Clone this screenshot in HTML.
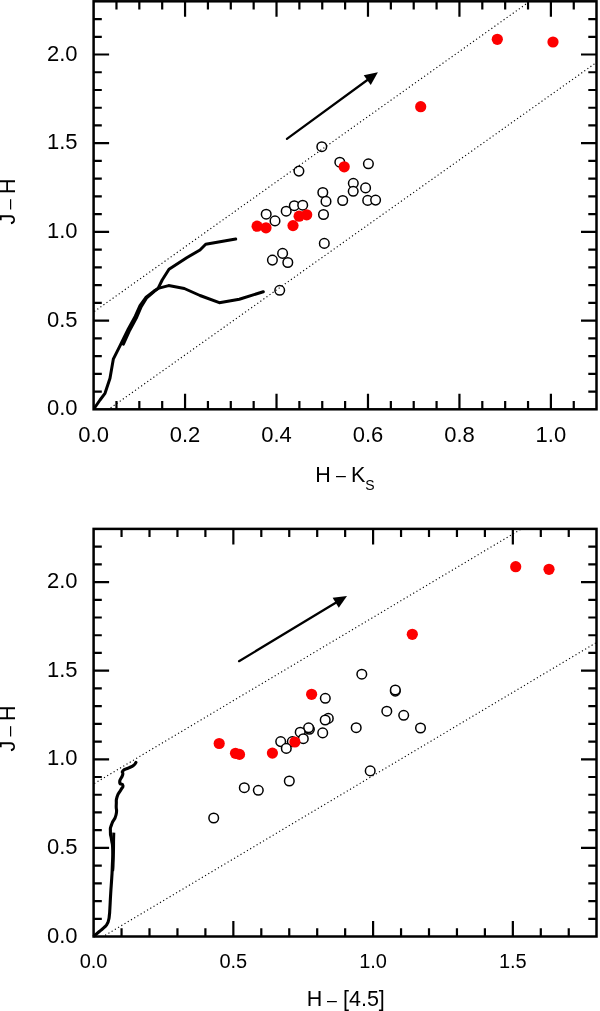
<!DOCTYPE html>
<html><head><meta charset="utf-8"><title>Colour-colour diagrams</title>
<style>html,body{margin:0;padding:0;background:#fff}svg{display:block;will-change:transform}text{font-family:"Liberation Sans",sans-serif;fill:#000}</style>
</head><body>
<svg width="600" height="1011" viewBox="0 0 600 1011">
<rect x="0" y="0" width="600" height="1011" fill="#fff"/>
<g>
<path d="M116.47 409.3 v-8.2 M116.47 1.3 v8.2 M139.33 409.3 v-8.2 M139.33 1.3 v8.2 M162.19 409.3 v-8.2 M162.19 1.3 v8.2 M185.06 409.3 v-15.5 M185.06 1.3 v15.5 M207.93 409.3 v-8.2 M207.93 1.3 v8.2 M230.79 409.3 v-8.2 M230.79 1.3 v8.2 M253.66 409.3 v-8.2 M253.66 1.3 v8.2 M276.52 409.3 v-15.5 M276.52 1.3 v15.5 M299.38 409.3 v-8.2 M299.38 1.3 v8.2 M322.25 409.3 v-8.2 M322.25 1.3 v8.2 M345.12 409.3 v-8.2 M345.12 1.3 v8.2 M367.98 409.3 v-15.5 M367.98 1.3 v15.5 M390.85 409.3 v-8.2 M390.85 1.3 v8.2 M413.71 409.3 v-8.2 M413.71 1.3 v8.2 M436.58 409.3 v-8.2 M436.58 1.3 v8.2 M459.44 409.3 v-15.5 M459.44 1.3 v15.5 M482.31 409.3 v-8.2 M482.31 1.3 v8.2 M505.17 409.3 v-8.2 M505.17 1.3 v8.2 M528.04 409.3 v-8.2 M528.04 1.3 v8.2 M550.9 409.3 v-15.5 M550.9 1.3 v15.5 M573.76 409.3 v-8.2 M573.76 1.3 v8.2 M93.6 391.56 h8.2 M596.5 391.56 h-8.2 M93.6 373.82 h8.2 M596.5 373.82 h-8.2 M93.6 356.08 h8.2 M596.5 356.08 h-8.2 M93.6 338.34 h8.2 M596.5 338.34 h-8.2 M93.6 320.6 h15.5 M596.5 320.6 h-15.5 M93.6 302.87 h8.2 M596.5 302.87 h-8.2 M93.6 285.13 h8.2 M596.5 285.13 h-8.2 M93.6 267.39 h8.2 M596.5 267.39 h-8.2 M93.6 249.65 h8.2 M596.5 249.65 h-8.2 M93.6 231.91 h15.5 M596.5 231.91 h-15.5 M93.6 214.17 h8.2 M596.5 214.17 h-8.2 M93.6 196.43 h8.2 M596.5 196.43 h-8.2 M93.6 178.69 h8.2 M596.5 178.69 h-8.2 M93.6 160.95 h8.2 M596.5 160.95 h-8.2 M93.6 143.21 h15.5 M596.5 143.21 h-15.5 M93.6 125.47 h8.2 M596.5 125.47 h-8.2 M93.6 107.73 h8.2 M596.5 107.73 h-8.2 M93.6 90 h8.2 M596.5 90 h-8.2 M93.6 72.26 h8.2 M596.5 72.26 h-8.2 M93.6 54.52 h15.5 M596.5 54.52 h-15.5 M93.6 36.78 h8.2 M596.5 36.78 h-8.2 M93.6 19.04 h8.2 M596.5 19.04 h-8.2" fill="none" stroke="#000" stroke-width="2.2"/>
<rect x="93.6" y="1.3" width="502.9" height="408" fill="none" stroke="#000" stroke-width="2.5"/>
<text x="93.6" y="442.4" font-size="22" text-anchor="middle">0.0</text>
<text x="185.06" y="442.4" font-size="22" text-anchor="middle">0.2</text>
<text x="276.52" y="442.4" font-size="22" text-anchor="middle">0.4</text>
<text x="367.98" y="442.4" font-size="22" text-anchor="middle">0.6</text>
<text x="459.44" y="442.4" font-size="22" text-anchor="middle">0.8</text>
<text x="550.9" y="442.4" font-size="22" text-anchor="middle">1.0</text>
<text x="77.6" y="415.3" font-size="22" text-anchor="end">0.0</text>
<text x="77.6" y="326.6" font-size="22" text-anchor="end">0.5</text>
<text x="77.6" y="237.91" font-size="22" text-anchor="end">1.0</text>
<text x="77.6" y="149.21" font-size="22" text-anchor="end">1.5</text>
<text x="77.6" y="60.52" font-size="22" text-anchor="end">2.0</text>
<path d="M94.5 408 L100 400 L105 393.3 L110 378.3 L113.3 359.2 L120.2 345.3 L128.3 329 L135.3 316.2 L140 305.7 L145.8 297.5 L154 291.1 L158.1 288.4 L168.6 285.6 L184.3 288.5 L200 295.5 L219.3 302.7 L239.3 299.3 L263.3 291.7" fill="none" stroke="#000" stroke-width="3.0" stroke-linejoin="round" stroke-linecap="round"/>
<path d="M123.4 344.2 L129.7 330.2 L136.7 317.2 L141.2 306.6 L146.4 298.2 L154.3 291.4 L158.1 288.4 L162.2 280 L169 269.3 L186.7 257.7 L200 250 L205.7 244.3 L235.7 239" fill="none" stroke="#000" stroke-width="3.0" stroke-linejoin="round" stroke-linecap="round"/>
<path d="M286.9 138.8 L368.05 79.5" stroke="#000" stroke-width="2.2" stroke-linecap="round" fill="none"/>
<path d="M377.9 72.3 L370.75 84.89 L363.73 75.28 Z" fill="#000"/>
<circle cx="321.8" cy="146.7" r="4.8" fill="#fff" stroke="#000" stroke-width="1.5"/>
<circle cx="298.9" cy="171.1" r="4.8" fill="#fff" stroke="#000" stroke-width="1.5"/>
<circle cx="339.8" cy="162.2" r="4.8" fill="#fff" stroke="#000" stroke-width="1.5"/>
<circle cx="368.4" cy="163.8" r="4.8" fill="#fff" stroke="#000" stroke-width="1.5"/>
<circle cx="353.3" cy="183.3" r="4.8" fill="#fff" stroke="#000" stroke-width="1.5"/>
<circle cx="353.2" cy="191.3" r="4.8" fill="#fff" stroke="#000" stroke-width="1.5"/>
<circle cx="365.6" cy="187.9" r="4.8" fill="#fff" stroke="#000" stroke-width="1.5"/>
<circle cx="322.8" cy="192.5" r="4.8" fill="#fff" stroke="#000" stroke-width="1.5"/>
<circle cx="326" cy="201.4" r="4.8" fill="#fff" stroke="#000" stroke-width="1.5"/>
<circle cx="342.7" cy="200.5" r="4.8" fill="#fff" stroke="#000" stroke-width="1.5"/>
<circle cx="367.7" cy="200.4" r="4.8" fill="#fff" stroke="#000" stroke-width="1.5"/>
<circle cx="375.6" cy="200.1" r="4.8" fill="#fff" stroke="#000" stroke-width="1.5"/>
<circle cx="323.5" cy="214.5" r="4.8" fill="#fff" stroke="#000" stroke-width="1.5"/>
<circle cx="294.3" cy="205.7" r="4.8" fill="#fff" stroke="#000" stroke-width="1.5"/>
<circle cx="286.2" cy="211.2" r="4.8" fill="#fff" stroke="#000" stroke-width="1.5"/>
<circle cx="302.7" cy="205.2" r="4.8" fill="#fff" stroke="#000" stroke-width="1.5"/>
<circle cx="266.2" cy="214.2" r="4.8" fill="#fff" stroke="#000" stroke-width="1.5"/>
<circle cx="275" cy="220.9" r="4.8" fill="#fff" stroke="#000" stroke-width="1.5"/>
<circle cx="324.3" cy="243.4" r="4.8" fill="#fff" stroke="#000" stroke-width="1.5"/>
<circle cx="282.6" cy="253.4" r="4.8" fill="#fff" stroke="#000" stroke-width="1.5"/>
<circle cx="272.4" cy="260.1" r="4.8" fill="#fff" stroke="#000" stroke-width="1.5"/>
<circle cx="287.8" cy="262.5" r="4.8" fill="#fff" stroke="#000" stroke-width="1.5"/>
<circle cx="279.7" cy="290.3" r="4.8" fill="#fff" stroke="#000" stroke-width="1.5"/>
<path d="M94.3 311.5 L527 3.3" stroke="#000" stroke-width="1.15" stroke-dasharray="1.15 2.6" fill="none"/>
<path d="M110.6 407.9 L596.8 62.2" stroke="#000" stroke-width="1.15" stroke-dasharray="1.15 2.6" fill="none"/>
<circle cx="344.2" cy="166.8" r="5.6" fill="#fd0000"/>
<circle cx="299.1" cy="216.2" r="5.6" fill="#fd0000"/>
<circle cx="306.7" cy="214.8" r="5.6" fill="#fd0000"/>
<circle cx="293" cy="225.6" r="5.6" fill="#fd0000"/>
<circle cx="257.1" cy="226.2" r="5.6" fill="#fd0000"/>
<circle cx="266" cy="227.8" r="5.6" fill="#fd0000"/>
<circle cx="420.7" cy="106.7" r="5.6" fill="#fd0000"/>
<circle cx="497.3" cy="39.3" r="5.6" fill="#fd0000"/>
<circle cx="553" cy="42" r="5.6" fill="#fd0000"/>
<text transform="translate(15.4,202) rotate(-90)" font-size="21.5"><tspan x="-22.5">J</tspan><tspan x="-7.6" font-size="18.6" dy="-0.7">–</tspan><tspan x="8.1" dy="0.7">H</tspan></text>
<text y="481.8" font-size="21.5"><tspan x="315.3">H</tspan><tspan x="336.1" font-size="17.8" dy="-0.8">–</tspan><tspan x="351" dy="0.8">K</tspan><tspan x="365.2" dy="8.3" font-size="14">S</tspan></text>
</g>
<g>
<path d="M94.3 783.5 L521 529.2" stroke="#000" stroke-width="1.15" stroke-dasharray="1.15 2.6" fill="none"/>
<path d="M105.2 935.3 L596.8 642.3" stroke="#000" stroke-width="1.15" stroke-dasharray="1.15 2.6" fill="none"/>
<path d="M121.55 936.5 v-8.2 M121.55 528.9 v8.2 M149.5 936.5 v-8.2 M149.5 528.9 v8.2 M177.45 936.5 v-8.2 M177.45 528.9 v8.2 M205.4 936.5 v-8.2 M205.4 528.9 v8.2 M233.35 936.5 v-15.5 M233.35 528.9 v15.5 M261.3 936.5 v-8.2 M261.3 528.9 v8.2 M289.25 936.5 v-8.2 M289.25 528.9 v8.2 M317.2 936.5 v-8.2 M317.2 528.9 v8.2 M345.15 936.5 v-8.2 M345.15 528.9 v8.2 M373.1 936.5 v-15.5 M373.1 528.9 v15.5 M401.05 936.5 v-8.2 M401.05 528.9 v8.2 M429 936.5 v-8.2 M429 528.9 v8.2 M456.95 936.5 v-8.2 M456.95 528.9 v8.2 M484.9 936.5 v-8.2 M484.9 528.9 v8.2 M512.85 936.5 v-15.5 M512.85 528.9 v15.5 M540.8 936.5 v-8.2 M540.8 528.9 v8.2 M568.75 936.5 v-8.2 M568.75 528.9 v8.2 M93.6 918.78 h8.2 M596.5 918.78 h-8.2 M93.6 901.06 h8.2 M596.5 901.06 h-8.2 M93.6 883.33 h8.2 M596.5 883.33 h-8.2 M93.6 865.61 h8.2 M596.5 865.61 h-8.2 M93.6 847.89 h15.5 M596.5 847.89 h-15.5 M93.6 830.17 h8.2 M596.5 830.17 h-8.2 M93.6 812.45 h8.2 M596.5 812.45 h-8.2 M93.6 794.73 h8.2 M596.5 794.73 h-8.2 M93.6 777 h8.2 M596.5 777 h-8.2 M93.6 759.28 h15.5 M596.5 759.28 h-15.5 M93.6 741.56 h8.2 M596.5 741.56 h-8.2 M93.6 723.84 h8.2 M596.5 723.84 h-8.2 M93.6 706.12 h8.2 M596.5 706.12 h-8.2 M93.6 688.4 h8.2 M596.5 688.4 h-8.2 M93.6 670.67 h15.5 M596.5 670.67 h-15.5 M93.6 652.95 h8.2 M596.5 652.95 h-8.2 M93.6 635.23 h8.2 M596.5 635.23 h-8.2 M93.6 617.51 h8.2 M596.5 617.51 h-8.2 M93.6 599.79 h8.2 M596.5 599.79 h-8.2 M93.6 582.07 h15.5 M596.5 582.07 h-15.5 M93.6 564.34 h8.2 M596.5 564.34 h-8.2 M93.6 546.62 h8.2 M596.5 546.62 h-8.2" fill="none" stroke="#000" stroke-width="2.2"/>
<rect x="93.6" y="528.9" width="502.9" height="407.6" fill="none" stroke="#000" stroke-width="2.5"/>
<text x="93.6" y="968.1" font-size="20" text-anchor="middle">0.0</text>
<text x="233.35" y="968.1" font-size="20" text-anchor="middle">0.5</text>
<text x="373.1" y="968.1" font-size="20" text-anchor="middle">1.0</text>
<text x="512.85" y="968.1" font-size="20" text-anchor="middle">1.5</text>
<text x="77.6" y="942.5" font-size="22" text-anchor="end">0.0</text>
<text x="77.6" y="853.89" font-size="22" text-anchor="end">0.5</text>
<text x="77.6" y="765.28" font-size="22" text-anchor="end">1.0</text>
<text x="77.6" y="676.67" font-size="22" text-anchor="end">1.5</text>
<text x="77.6" y="588.07" font-size="22" text-anchor="end">2.0</text>
<path d="M94.3 935.8 C95.87 934.47 95.43 934.83 99 931.8 C102.57 928.77 102.23 929.47 105 926.7 C107.77 923.93 106.1 925.73 107.3 923.5 C108.5 921.27 107.9 922.83 108.6 920 C109.3 917.17 108.97 919 109.4 915 C109.83 911 109.47 915.23 109.9 908 C110.33 900.77 110.1 903.07 110.7 893.3 C111.3 883.53 111.17 887.57 111.7 878.7 C112.23 869.83 111.97 876.27 112.3 866.7 C112.63 857.13 112.93 858.9 112.7 850 C112.47 841.1 112.37 846.1 111.6 840 C110.83 833.9 110.37 836.97 110.4 831.7 C110.43 826.43 109.83 829.77 111.7 824.2 C113.57 818.63 114.48 821.4 116 815 C117.52 808.6 115.88 811.1 116.25 805 C116.62 798.9 115.58 801.7 117.1 796.7 C118.62 791.7 118.87 793.77 120.8 790 C122.73 786.23 123.27 788.03 122.9 785.4 C122.53 782.77 119.8 785.57 119.7 782.1 C119.6 778.63 121.5 778.77 122.6 775 C123.7 771.23 120.93 773.17 123 770.8 C125.07 768.43 125.33 769.7 128.8 767.9 C132.27 766.1 131.03 767.2 133.4 765.4 C135.77 763.6 135.07 763.47 135.9 762.5" fill="none" stroke="#000" stroke-width="3.1" stroke-linejoin="round" stroke-linecap="round"/>
<path d="M113.8 832.6 C113.77 833.83 113.65 837.1 113.6 840 C113.55 842.9 113.6 845.55 113.5 850 C113.4 854.45 113.15 863.2 113 866.7 C112.85 870.2 112.67 870.28 112.6 871" fill="none" stroke="#000" stroke-width="3.0" stroke-linejoin="round" stroke-linecap="butt"/>
<path d="M239 661.2 L336.56 602.21" stroke="#000" stroke-width="2.2" stroke-linecap="round" fill="none"/>
<path d="M347 595.9 L338.78 607.82 L332.63 597.64 Z" fill="#000"/>
<circle cx="328.3" cy="718.4" r="4.8" fill="#fff" stroke="#000" stroke-width="1.5"/>
<circle cx="325.2" cy="720" r="4.8" fill="#fff" stroke="#000" stroke-width="1.5"/>
<circle cx="309.4" cy="729.3" r="4.8" fill="#fff" stroke="#000" stroke-width="1.5"/>
<circle cx="308.6" cy="727.8" r="4.8" fill="#fff" stroke="#000" stroke-width="1.5"/>
<circle cx="300.2" cy="732.2" r="4.8" fill="#fff" stroke="#000" stroke-width="1.5"/>
<circle cx="303.3" cy="738.7" r="4.8" fill="#fff" stroke="#000" stroke-width="1.5"/>
<circle cx="292.3" cy="741.6" r="4.8" fill="#fff" stroke="#000" stroke-width="1.5"/>
<circle cx="280.7" cy="741.6" r="4.8" fill="#fff" stroke="#000" stroke-width="1.5"/>
<circle cx="286.3" cy="748.4" r="4.8" fill="#fff" stroke="#000" stroke-width="1.5"/>
<circle cx="395.3" cy="691.2" r="4.8" fill="#fff" stroke="#000" stroke-width="1.5"/>
<circle cx="395.3" cy="690" r="4.8" fill="#fff" stroke="#000" stroke-width="1.5"/>
<circle cx="325.3" cy="698.3" r="4.8" fill="#fff" stroke="#000" stroke-width="1.5"/>
<circle cx="322.7" cy="732.9" r="4.8" fill="#fff" stroke="#000" stroke-width="1.5"/>
<circle cx="361.8" cy="674.2" r="4.8" fill="#fff" stroke="#000" stroke-width="1.5"/>
<circle cx="386.8" cy="711.2" r="4.8" fill="#fff" stroke="#000" stroke-width="1.5"/>
<circle cx="403.7" cy="715.3" r="4.8" fill="#fff" stroke="#000" stroke-width="1.5"/>
<circle cx="356.2" cy="727.7" r="4.8" fill="#fff" stroke="#000" stroke-width="1.5"/>
<circle cx="420.5" cy="728" r="4.8" fill="#fff" stroke="#000" stroke-width="1.5"/>
<circle cx="213.7" cy="818" r="4.8" fill="#fff" stroke="#000" stroke-width="1.5"/>
<circle cx="244.3" cy="787.7" r="4.8" fill="#fff" stroke="#000" stroke-width="1.5"/>
<circle cx="258.3" cy="790.3" r="4.8" fill="#fff" stroke="#000" stroke-width="1.5"/>
<circle cx="289.3" cy="781" r="4.8" fill="#fff" stroke="#000" stroke-width="1.5"/>
<circle cx="370.2" cy="770.9" r="4.8" fill="#fff" stroke="#000" stroke-width="1.5"/>
<circle cx="311.6" cy="694.3" r="5.6" fill="#fd0000"/>
<circle cx="294.9" cy="742" r="5.6" fill="#fd0000"/>
<circle cx="272.4" cy="753.1" r="5.6" fill="#fd0000"/>
<circle cx="219.2" cy="743.5" r="5.6" fill="#fd0000"/>
<circle cx="235.5" cy="753.3" r="5.6" fill="#fd0000"/>
<circle cx="239.5" cy="754.4" r="5.6" fill="#fd0000"/>
<circle cx="412.3" cy="634.3" r="5.6" fill="#fd0000"/>
<circle cx="515.7" cy="566.7" r="5.6" fill="#fd0000"/>
<circle cx="549" cy="569.3" r="5.6" fill="#fd0000"/>
<text transform="translate(15.4,729) rotate(-90)" font-size="21.5"><tspan x="-22.5">J</tspan><tspan x="-7.6" font-size="18.6" dy="-0.7">–</tspan><tspan x="8.1" dy="0.7">H</tspan></text>
<text y="1006.4" font-size="21.5"><tspan x="306.8">H</tspan><tspan x="327.1" font-size="17.8" dy="-0.8">–</tspan><tspan x="343" dy="0.8">[4.5]</tspan></text>
</g>
</svg></body></html>
